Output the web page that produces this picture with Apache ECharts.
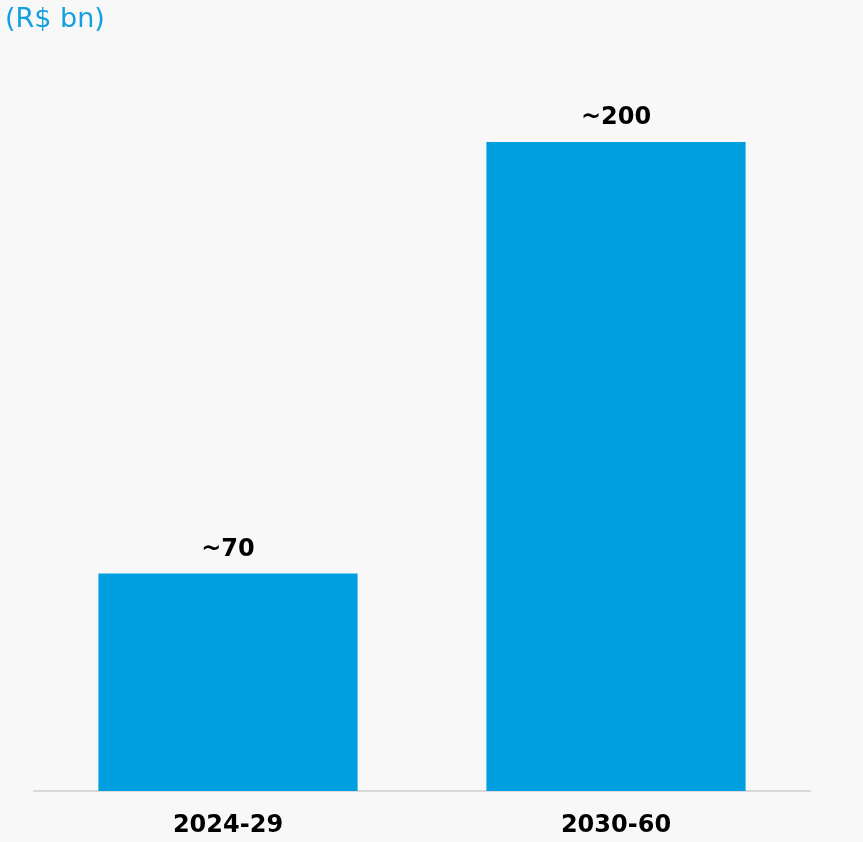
<!DOCTYPE html>
<html lang="en">
<head>
    <meta charset="UTF-8">
    <title>R$ bn</title>
    <script src="https://cdn.jsdelivr.net/npm/echarts@6/dist/echarts.min.js"></script>
    <style>
        html, body { margin: 0; padding: 0; background: #f8f8f8; }
        #container { width: 863px; height: 842px; }
    </style>
</head>
<body>
<div id="container"></div>
<script type="text/javascript">
    // data
    const periods = ['2024-29', '2030-60'];
    const values = [67, 200];
    const valueLabels = ['~70', '~200'];

    let myChart = echarts.init(document.getElementById('container'));
    let option = {
        backgroundColor: '#f8f8f8',
        animation: false,
        title: {
            text: '(R$ bn)',
            left: 0,
            top: 1,
            textStyle: {
                color: '#14a0e0',
                fontFamily: 'DejaVu Sans',
                fontWeight: 'normal',
                fontSize: 27
            }
        },
        grid: {
            left: 34,
            right: 53,
            top: 142,
            bottom: 51,
            containLabel: false
        },
        xAxis: {
            type: 'category',
            data: periods,
            axisLine: { lineStyle: { color: '#d9d9d9', width: 2 } },
            axisTick: { show: false },
            axisLabel: {
                margin: 23,
                color: '#000',
                fontFamily: 'DejaVu Sans',
                fontWeight: 'bold',
                fontSize: 24
            }
        },
        yAxis: {
            type: 'value',
            min: 0,
            max: 200,
            show: false,
            splitLine: { show: false }
        },
        series: [{
            type: 'bar',
            data: values,
            barWidth: '66.8%',
            itemStyle: { color: '#009fdf' },
            label: {
                show: true,
                position: 'top',
                distance: 12,
                color: '#000',
                fontFamily: 'DejaVu Sans',
                fontWeight: 'bold',
                fontSize: 24,
                formatter: function (p) { return valueLabels[p.dataIndex]; }
            }
        }]
    };
    myChart.setOption(option);
</script>
</body>
</html>
